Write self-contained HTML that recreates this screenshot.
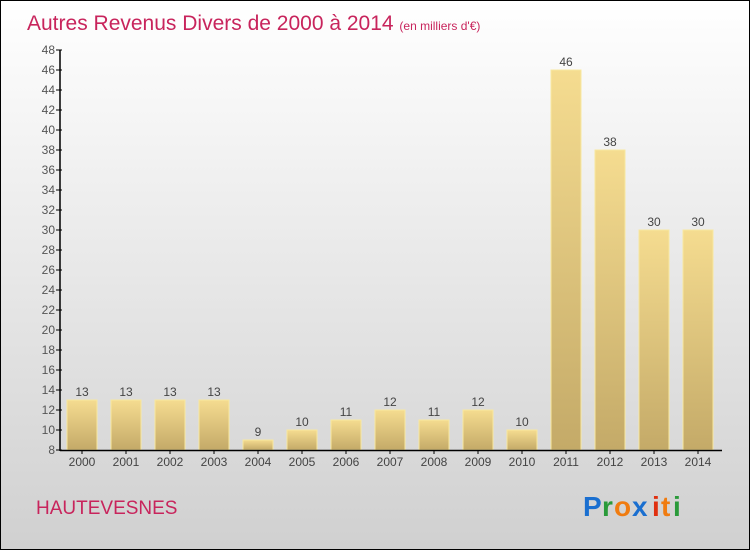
<!DOCTYPE html>
<html><head><meta charset="utf-8"><style>
body{margin:0}
#wrap{width:750px;height:550px;position:relative;box-sizing:border-box;border:1px solid #000;background:linear-gradient(#ffffff,#d0d0d0);font-family:"Liberation Sans",sans-serif;overflow:hidden}
</style></head><body>
<div id="wrap">
<svg width="750" height="550" style="position:absolute;left:-1px;top:-1px">
<defs><linearGradient id="bg" x1="0" y1="0" x2="0" y2="1"><stop offset="0" stop-color="#f5dc90"/><stop offset="1" stop-color="#c4aa68"/></linearGradient></defs>
<text x="27" y="30" font-size="21" fill="#c8245c">Autres Revenus Divers de 2000 à 2014 <tspan font-size="12">(en milliers d'€)</tspan></text>
<g id="bars"></g>
<g id="axes"></g>
<text x="36" y="514" font-size="19" fill="#c8245c">HAUTEVESNES</text>
<g font-size="28" font-weight="bold">
<text x="583" y="516" fill="#1a6fd0">P</text><text x="602" y="516" fill="#2a9a3a">r</text><text x="614" y="516" fill="#f07c10">o</text><text x="632" y="516" fill="#1a6fd0">x</text><text x="652" y="516" fill="#e03010">i</text><text x="661" y="516" fill="#f07c10">t</text><text x="673" y="516" fill="#2a9a3a">i</text>
</g>
</svg>
</div>
<script>
const years=["2000","2001","2002","2003","2004","2005","2006","2007","2008","2009","2010","2011","2012","2013","2014"];
const values=[13,13,13,13,9,10,11,12,11,12,10,46,38,30,30];
const yTicks=[8,10,12,14,16,18,20,22,24,26,28,30,32,34,36,38,40,42,44,46,48];
const NS="http://www.w3.org/2000/svg";
const y=v=>450-(v-8)*10;
const x=i=>82+i*44;
function mk(t,a,p){const e=document.createElementNS(NS,t);for(const k in a)e.setAttribute(k,a[k]);p.appendChild(e);return e;}
const bars=document.getElementById('bars'),axes=document.getElementById('axes');
values.forEach((v,i)=>{
 const r=mk('rect',{x:x(i)-15,y:y(v),width:30,height:450-y(v),fill:'url(#bg)',stroke:'#f8e8a0','stroke-width':1},bars);
 
 
 const t=mk('text',{x:x(i),y:y(v)-4,'text-anchor':'middle','font-size':12,fill:'#444'},bars);t.textContent=v;
 
 
 const xl=mk('text',{x:x(i),y:466,'text-anchor':'middle','font-size':12,fill:'#444'},axes);xl.textContent=years[i];
 
 
 mk('line',{x1:x(i),x2:x(i),y1:450,y2:454,stroke:'#000'},axes);
});
yTicks.forEach(v=>{
 mk('line',{x1:56,x2:62,y1:y(v),y2:y(v),stroke:'#000'},axes);
 const t=mk('text',{x:55,y:y(v)+4,'text-anchor':'end','font-size':12,fill:'#555'},axes);t.textContent=v;
 
 
});
const ya=mk('line',{x1:60,x2:60,y1:50,y2:451,stroke:'#000','stroke-width':1.5},axes);


const xa=mk('line',{x1:60,x2:722,y1:450.5,y2:450.5,stroke:'#000','stroke-width':1.5},axes);


</script>
</body></html>
